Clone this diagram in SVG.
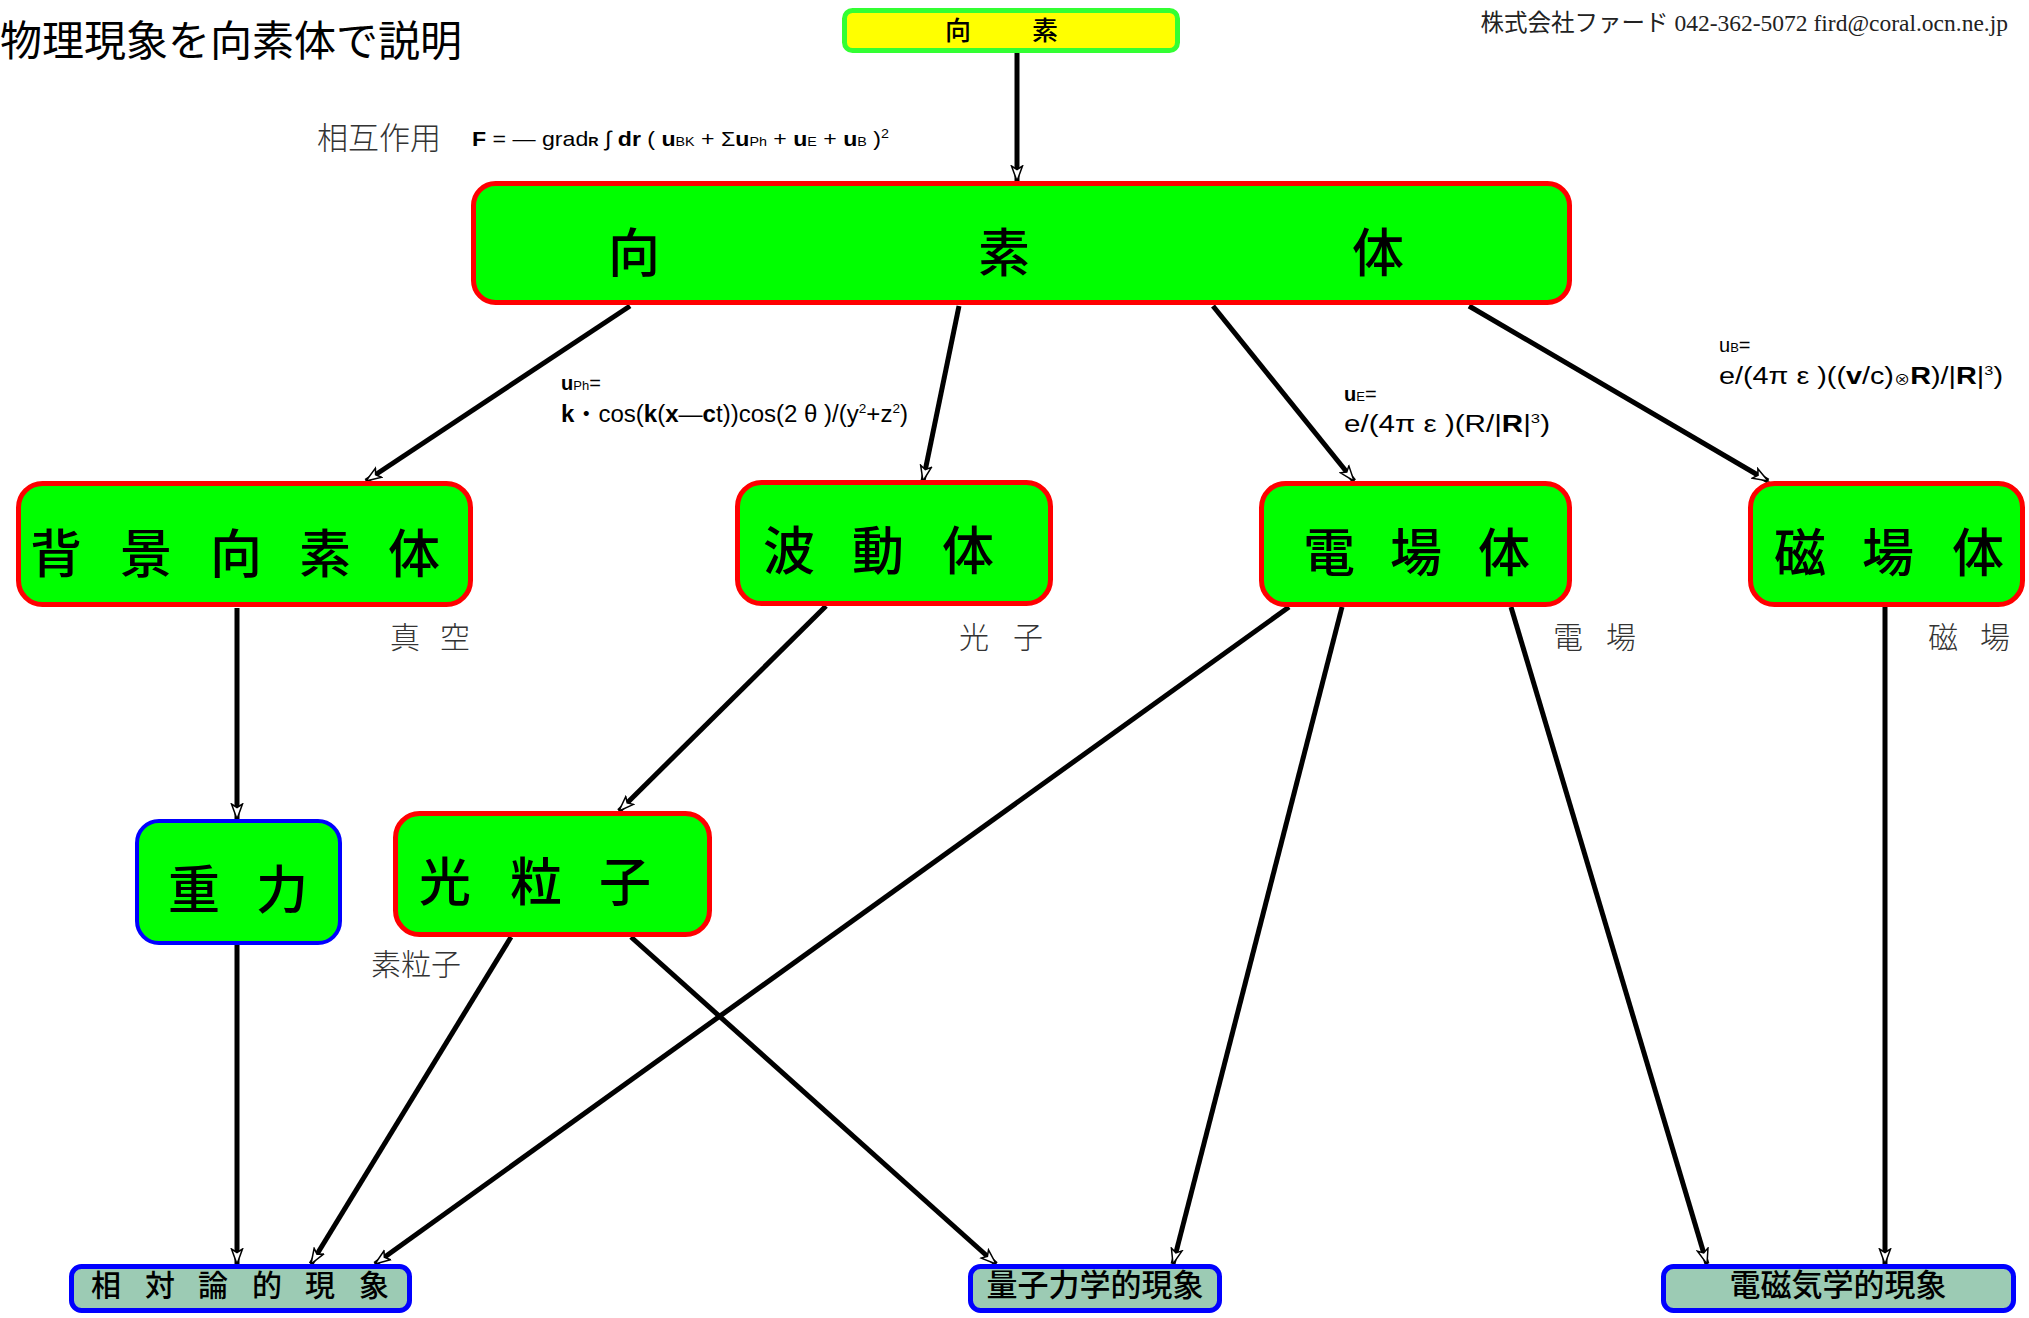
<svg xmlns="http://www.w3.org/2000/svg" width="2029" height="1318" viewBox="0 0 2029 1318">
<style>
.bg{fill:#ffffff}
.box-red{fill:#00ff00;stroke:#ff0000;stroke-width:5}
.box-blue{fill:#00ff00;stroke:#0000ff;stroke-width:4}
.box-bottom{fill:#9ccbb4;stroke:#0000ff;stroke-width:5}
.box-top{fill:#ffff00;stroke:#33ff33;stroke-width:5}
.nt{font-family:"Noto Sans CJK JP","Noto Sans CJK SC",sans-serif;fill:#000;text-anchor:middle;font-weight:500}
.big{font-size:52px}
.small{font-size:30px}
.lbl{font-family:"Noto Sans CJK JP","Noto Sans CJK SC",sans-serif;fill:#333;font-weight:300;text-anchor:middle;font-size:30px}
.conn{stroke:#000;stroke-width:5;fill:none;marker-end:url(#arr)}
.f{font-family:"Liberation Sans","Noto Sans CJK JP",sans-serif;fill:#000}
.b{font-weight:bold}
</style>
<defs>
<marker id="arr" markerUnits="userSpaceOnUse" viewBox="-1 -7 18 14" refX="15" refY="0" markerWidth="18" markerHeight="14" orient="auto">
<path d="M0,-5.5 L15,0 L0,5.5 L3.5,0 Z" fill="#fff" stroke="#000" stroke-width="1.5" stroke-linejoin="miter"/>
</marker>
</defs>
<rect class="bg" x="0" y="0" width="2029" height="1318"/>

<text x="0" y="56" font-family="Noto Sans CJK JP, sans-serif" font-size="42" fill="#000">物理現象を向素体で説明</text>
<text x="2008" y="31" text-anchor="end" font-family="Liberation Serif, Noto Sans CJK JP, serif" font-size="23.5" fill="#222">株式会社ファード 042-362-5072 fird@coral.ocn.ne.jp</text>

<text x="317" y="149" font-family="Noto Sans CJK JP, sans-serif" font-weight="300" font-size="31" fill="#333">相互作用</text>
<text class="f" x="472" y="146" font-size="21" textLength="417" lengthAdjust="spacingAndGlyphs"><tspan class="b">F</tspan> = — grad<tspan class="b" font-size="13">R</tspan> ∫ <tspan class="b">dr</tspan> ( <tspan class="b">u</tspan><tspan font-size="13">BK</tspan> + Σ<tspan class="b">u</tspan><tspan font-size="13">Ph</tspan> + <tspan class="b">u</tspan><tspan font-size="13">E</tspan> + <tspan class="b">u</tspan><tspan font-size="13">B</tspan> )<tspan font-size="13" dy="-8">2</tspan></text>

<text class="f" x="561" y="390" font-size="20"><tspan class="b">u</tspan><tspan font-size="13">Ph</tspan>=</text>
<text class="f" x="561" y="422" font-size="23" textLength="347" lengthAdjust="spacingAndGlyphs"><tspan class="b">k</tspan>・cos(<tspan class="b">k</tspan>(<tspan class="b">x</tspan>—<tspan class="b">c</tspan>t))cos(2 θ )/(y<tspan font-size="13" dy="-9">2</tspan><tspan dy="9">+z</tspan><tspan font-size="13" dy="-9">2</tspan><tspan dy="9">)</tspan></text>

<text class="f" x="1344" y="401" font-size="20"><tspan class="b">u</tspan><tspan font-size="13">E</tspan>=</text>
<text class="f" x="1344" y="432" font-size="23" textLength="206" lengthAdjust="spacingAndGlyphs">e/(4π ε )(R/|<tspan class="b">R</tspan>|<tspan font-size="13" dy="-9">3</tspan><tspan dy="9">)</tspan></text>

<text class="f" x="1719" y="352" font-size="20">u<tspan font-size="13">B</tspan>=</text>
<text class="f" x="1719" y="384" font-size="23" textLength="284" lengthAdjust="spacingAndGlyphs">e/(4π ε )((<tspan class="b">v</tspan>/c)<tspan font-size="13">⊗</tspan><tspan class="b">R</tspan>)/|<tspan class="b">R</tspan>|<tspan font-size="13" dy="-9">3</tspan><tspan dy="9">)</tspan></text>

<g id="connectors">
<path class="conn" d="M1017,53 L1017,181"/>
<path class="conn" d="M630,306 L366,481"/>
<path class="conn" d="M959,306 L923,481"/>
<path class="conn" d="M1213,306 L1354,481"/>
<path class="conn" d="M1469,306 L1768,481"/>
<path class="conn" d="M237,608 L237,819"/>
<path class="conn" d="M826,606 L619,811"/>
<path class="conn" d="M237,945 L237,1264"/>
<path class="conn" d="M511,937 L311,1264"/>
<path class="conn" d="M1289,607 L375,1264"/>
<path class="conn" d="M631,937 L996,1264"/>
<path class="conn" d="M1342,607 L1173,1264"/>
<path class="conn" d="M1511,607 L1707,1264"/>
<path class="conn" d="M1885,607 L1885,1264"/>
</g>

<g id="node-kouso">
<rect class="box-top" x="844.5" y="10.5" width="333" height="40" rx="8"/>
<text class="nt" font-size="26" x="958 1001 1045" y="40">向 素</text>
</g>

<g id="node-kousotai">
<rect class="box-red" x="473.5" y="183.5" width="1096" height="119" rx="22"/>
<text class="nt big" x="634 819 1004 1191 1378" y="272">向 素 体</text>
</g>

<g id="node-haikei">
<rect class="box-red" x="18.5" y="483.5" width="452" height="121" rx="24"/>
<text class="nt big" x="56 101 146 191 236 280 325 370 414" y="573">背 景 向 素 体</text>
<text class="lbl" x="405 430 455" y="648">真 空</text>
</g>

<g id="node-hadou">
<rect class="box-red" x="737.5" y="482.5" width="313" height="121" rx="24"/>
<text class="nt big" x="789 833 878 923 968" y="570">波 動 体</text>
<text class="lbl" x="974 1001 1028" y="648">光 子</text>
</g>

<g id="node-denba">
<rect class="box-red" x="1261.5" y="483.5" width="308" height="121" rx="24"/>
<text class="nt big" x="1329 1372 1416 1460 1504" y="572">電 場 体</text>
<text class="lbl" x="1568 1595 1621" y="648">電 場</text>
</g>

<g id="node-jiba">
<rect class="box-red" x="1750.5" y="483.5" width="272" height="121" rx="24"/>
<text class="nt big" x="1800 1844 1888 1933 1978" y="572">磁 場 体</text>
<text class="lbl" x="1943 1969 1995" y="648">磁 場</text>
</g>

<g id="node-juryoku">
<rect class="box-blue" x="137" y="821" width="203" height="122" rx="22"/>
<text class="nt big" x="194 238 282" y="909">重 力</text>
</g>

<g id="node-koryushi">
<rect class="box-red" x="395.5" y="813.5" width="314" height="121" rx="24"/>
<text class="nt big" x="445 490 536 580 625" y="901">光 粒 子</text>
<text class="lbl" x="416" y="975" font-size="31">素粒子</text>
</g>

<g id="node-soutai">
<rect class="box-bottom" x="71.5" y="1266.5" width="338" height="44" rx="10"/>
<text class="nt small" x="106 133 160 187 213 240 267 293 320 347 374" y="1296">相 対 論 的 現 象</text>
</g>

<g id="node-ryoshi">
<rect class="box-bottom" x="970.5" y="1266.5" width="249" height="44" rx="10"/>
<text class="nt" font-size="31" x="1095" y="1296">量子力学的現象</text>
</g>

<g id="node-denji">
<rect class="box-bottom" x="1663.5" y="1266.5" width="350" height="44" rx="10"/>
<text class="nt" font-size="31" x="1838" y="1296">電磁気学的現象</text>
</g>
</svg>
